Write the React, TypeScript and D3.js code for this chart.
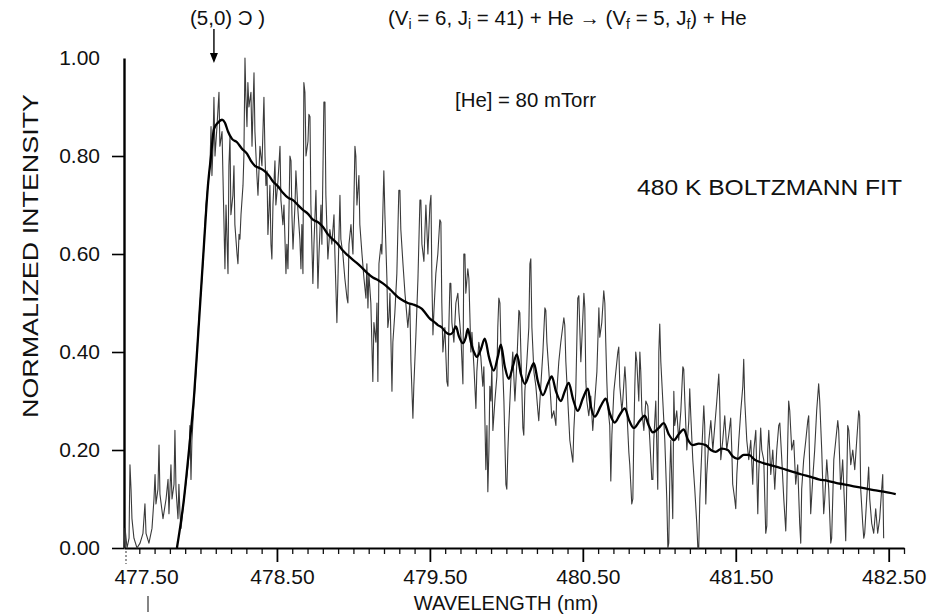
import React, { useEffect, useRef } from 'react';
import * as d3 from 'd3';

// measured emission spectrum, [wavelength (nm), normalized intensity]
const spectrum: [number, number][] = [
  [477.500, 0.00], [477.507, 0.04], [477.520, 0.00], [477.533, 0.02], [477.539, 0.17], [477.546, 0.12], [477.552, 0.06],
  [477.565, 0.02], [477.585, 0.00], [477.605, 0.01], [477.624, 0.03], [477.637, 0.09], [477.644, 0.03], [477.663, 0.01],
  [477.683, 0.04], [477.696, 0.10], [477.703, 0.15], [477.709, 0.09], [477.722, 0.12], [477.729, 0.21], [477.735, 0.11],
  [477.755, 0.06], [477.775, 0.10], [477.788, 0.14], [477.794, 0.07], [477.807, 0.17], [477.814, 0.10], [477.827, 0.13],
  [477.833, 0.24], [477.840, 0.12], [477.853, 0.06], [477.859, 0.13], [477.866, 0.07], [477.873, 0.04], [477.892, 0.10],
  [477.912, 0.15], [477.925, 0.19], [477.931, 0.25], [477.938, 0.14], [477.944, 0.22], [477.958, 0.30], [477.971, 0.36],
  [477.984, 0.44], [477.997, 0.50], [478.010, 0.55], [478.023, 0.62], [478.036, 0.70], [478.049, 0.74], [478.062, 0.78],
  [478.069, 0.86], [478.075, 0.76], [478.082, 0.82], [478.088, 0.92], [478.095, 0.80], [478.108, 0.86], [478.121, 0.93],
  [478.127, 0.82], [478.141, 0.85], [478.147, 0.76], [478.160, 0.57], [478.167, 0.70], [478.180, 0.56], [478.186, 0.78],
  [478.193, 0.84], [478.199, 0.68], [478.212, 0.72], [478.219, 0.78], [478.225, 0.66], [478.239, 0.60], [478.245, 0.58],
  [478.252, 0.64], [478.258, 0.63], [478.265, 0.68], [478.278, 0.74], [478.284, 0.80], [478.291, 1.00], [478.297, 0.92],
  [478.304, 0.86], [478.310, 0.95], [478.317, 0.90], [478.330, 0.93], [478.337, 0.82], [478.350, 0.97], [478.356, 0.85],
  [478.369, 0.76], [478.376, 0.72], [478.389, 0.82], [478.402, 0.78], [478.415, 0.92], [478.422, 0.80], [478.428, 0.74],
  [478.435, 0.77], [478.441, 0.64], [478.448, 0.69], [478.454, 0.74], [478.461, 0.62], [478.467, 0.59], [478.474, 0.70],
  [478.487, 0.79], [478.493, 0.70], [478.507, 0.75], [478.520, 0.82], [478.526, 0.71], [478.539, 0.66], [478.546, 0.70],
  [478.559, 0.56], [478.565, 0.62], [478.572, 0.57], [478.585, 0.80], [478.592, 0.79], [478.598, 0.68], [478.605, 0.61],
  [478.618, 0.70], [478.624, 0.77], [478.637, 0.69], [478.650, 0.63], [478.657, 0.57], [478.663, 0.66], [478.670, 0.56],
  [478.676, 0.95], [478.683, 0.93], [478.690, 0.80], [478.703, 0.83], [478.709, 0.885], [478.716, 0.88], [478.722, 0.70],
  [478.735, 0.54], [478.742, 0.62], [478.755, 0.73], [478.761, 0.64], [478.768, 0.53], [478.775, 0.60], [478.788, 0.70],
  [478.794, 0.62], [478.807, 0.91], [478.814, 0.91], [478.820, 0.72], [478.833, 0.59], [478.846, 0.65], [478.859, 0.62],
  [478.873, 0.68], [478.879, 0.60], [478.892, 0.46], [478.899, 0.55], [478.912, 0.72], [478.918, 0.63], [478.931, 0.60],
  [478.944, 0.55], [478.958, 0.51], [478.964, 0.50], [478.971, 0.62], [478.984, 0.66], [478.997, 0.60], [479.010, 0.82],
  [479.016, 0.80], [479.023, 0.70], [479.036, 0.76], [479.042, 0.66], [479.056, 0.60], [479.069, 0.55], [479.082, 0.51],
  [479.088, 0.58], [479.095, 0.49], [479.101, 0.56], [479.114, 0.50], [479.127, 0.34], [479.134, 0.46], [479.147, 0.42],
  [479.154, 0.50], [479.160, 0.34], [479.167, 0.58], [479.180, 0.62], [479.186, 0.60], [479.199, 0.77], [479.206, 0.68],
  [479.219, 0.55], [479.225, 0.45], [479.232, 0.47], [479.239, 0.52], [479.252, 0.32], [479.258, 0.42], [479.271, 0.48],
  [479.284, 0.56], [479.297, 0.73], [479.304, 0.73], [479.310, 0.65], [479.324, 0.58], [479.337, 0.52], [479.356, 0.45],
  [479.369, 0.50], [479.376, 0.38], [479.389, 0.265], [479.395, 0.33], [479.408, 0.43], [479.422, 0.55], [479.435, 0.71],
  [479.441, 0.71], [479.448, 0.62], [479.461, 0.585], [479.467, 0.64], [479.474, 0.70], [479.487, 0.60], [479.500, 0.70],
  [479.507, 0.72], [479.513, 0.55], [479.520, 0.435], [479.526, 0.48], [479.539, 0.56], [479.552, 0.60], [479.565, 0.67],
  [479.572, 0.665], [479.578, 0.50], [479.585, 0.40], [479.598, 0.45], [479.611, 0.34], [479.618, 0.33], [479.624, 0.45],
  [479.631, 0.54], [479.637, 0.54], [479.644, 0.46], [479.657, 0.42], [479.670, 0.50], [479.683, 0.52], [479.690, 0.48],
  [479.703, 0.43], [479.716, 0.335], [479.722, 0.60], [479.729, 0.60], [479.735, 0.52], [479.748, 0.57], [479.755, 0.55],
  [479.761, 0.48], [479.768, 0.40], [479.775, 0.44], [479.788, 0.37], [479.801, 0.285], [479.807, 0.36], [479.820, 0.42],
  [479.833, 0.39], [479.846, 0.33], [479.853, 0.37], [479.866, 0.16], [479.873, 0.25], [479.879, 0.115], [479.886, 0.20],
  [479.892, 0.33], [479.899, 0.30], [479.905, 0.37], [479.912, 0.24], [479.925, 0.30], [479.938, 0.35], [479.944, 0.45],
  [479.951, 0.51], [479.958, 0.50], [479.964, 0.42], [479.977, 0.36], [479.984, 0.30], [479.997, 0.13], [480.003, 0.12],
  [480.010, 0.20], [480.016, 0.25], [480.029, 0.34], [480.042, 0.40], [480.056, 0.30], [480.069, 0.38], [480.082, 0.485],
  [480.088, 0.48], [480.095, 0.40], [480.108, 0.245], [480.114, 0.23], [480.121, 0.32], [480.134, 0.38], [480.147, 0.45],
  [480.154, 0.58], [480.160, 0.59], [480.167, 0.45], [480.180, 0.36], [480.193, 0.33], [480.206, 0.28], [480.212, 0.26],
  [480.225, 0.33], [480.239, 0.40], [480.252, 0.49], [480.258, 0.485], [480.265, 0.42], [480.278, 0.36], [480.291, 0.30],
  [480.297, 0.265], [480.310, 0.28], [480.324, 0.25], [480.330, 0.32], [480.343, 0.38], [480.356, 0.42], [480.376, 0.47],
  [480.382, 0.455], [480.389, 0.38], [480.402, 0.30], [480.415, 0.22], [480.428, 0.19], [480.435, 0.175], [480.441, 0.24],
  [480.454, 0.32], [480.467, 0.51], [480.474, 0.515], [480.480, 0.45], [480.487, 0.38], [480.493, 0.42], [480.507, 0.52],
  [480.513, 0.49], [480.520, 0.34], [480.526, 0.30], [480.539, 0.27], [480.552, 0.31], [480.565, 0.24], [480.578, 0.30],
  [480.592, 0.36], [480.605, 0.49], [480.611, 0.43], [480.624, 0.46], [480.637, 0.525], [480.644, 0.50], [480.650, 0.42],
  [480.657, 0.34], [480.663, 0.29], [480.676, 0.25], [480.683, 0.137], [480.690, 0.23], [480.703, 0.32], [480.716, 0.36],
  [480.729, 0.40], [480.735, 0.41], [480.742, 0.33], [480.755, 0.28], [480.761, 0.30], [480.775, 0.37], [480.781, 0.34],
  [480.788, 0.28], [480.801, 0.195], [480.807, 0.17], [480.820, 0.09], [480.827, 0.10], [480.833, 0.22], [480.840, 0.33],
  [480.846, 0.40], [480.853, 0.38], [480.866, 0.30], [480.873, 0.40], [480.879, 0.36], [480.886, 0.28], [480.899, 0.24],
  [480.912, 0.30], [480.925, 0.29], [480.938, 0.22], [480.951, 0.14], [480.958, 0.14], [480.964, 0.22], [480.977, 0.30],
  [480.990, 0.12], [480.997, 0.40], [481.003, 0.457], [481.010, 0.38], [481.023, 0.30], [481.036, 0.22], [481.049, 0.10],
  [481.056, 0.00], [481.062, 0.01], [481.069, 0.15], [481.075, 0.22], [481.088, 0.06], [481.095, 0.32], [481.101, 0.25],
  [481.114, 0.28], [481.127, 0.22], [481.141, 0.28], [481.154, 0.37], [481.160, 0.365], [481.167, 0.30], [481.180, 0.20],
  [481.193, 0.26], [481.199, 0.325], [481.206, 0.27], [481.219, 0.18], [481.232, 0.12], [481.245, 0.05], [481.252, 0.00],
  [481.258, 0.00], [481.265, 0.10], [481.278, 0.20], [481.291, 0.29], [481.297, 0.25], [481.304, 0.09], [481.310, 0.15],
  [481.324, 0.22], [481.337, 0.26], [481.350, 0.20], [481.363, 0.25], [481.376, 0.30], [481.389, 0.355], [481.395, 0.30],
  [481.402, 0.18], [481.415, 0.22], [481.428, 0.27], [481.441, 0.20], [481.454, 0.23], [481.467, 0.265], [481.474, 0.20],
  [481.480, 0.13], [481.493, 0.10], [481.500, 0.08], [481.507, 0.15], [481.520, 0.22], [481.533, 0.28], [481.546, 0.33],
  [481.552, 0.385], [481.559, 0.30], [481.572, 0.22], [481.585, 0.18], [481.598, 0.22], [481.611, 0.13], [481.618, 0.20],
  [481.631, 0.24], [481.644, 0.07], [481.650, 0.15], [481.663, 0.245], [481.670, 0.20], [481.683, 0.18], [481.696, 0.03],
  [481.703, 0.045], [481.709, 0.20], [481.716, 0.24], [481.729, 0.15], [481.742, 0.20], [481.755, 0.12], [481.768, 0.20],
  [481.781, 0.25], [481.788, 0.255], [481.801, 0.18], [481.814, 0.10], [481.827, 0.035], [481.833, 0.10], [481.840, 0.22],
  [481.846, 0.30], [481.853, 0.28], [481.866, 0.20], [481.879, 0.22], [481.892, 0.13], [481.905, 0.17], [481.918, 0.05],
  [481.925, 0.01], [481.931, 0.12], [481.944, 0.18], [481.958, 0.22], [481.971, 0.26], [481.977, 0.27], [481.984, 0.15],
  [481.990, 0.07], [482.003, 0.14], [482.016, 0.20], [482.029, 0.28], [482.042, 0.335], [482.049, 0.30], [482.062, 0.20],
  [482.075, 0.07], [482.082, 0.10], [482.095, 0.18], [482.108, 0.12], [482.121, 0.01], [482.127, 0.02], [482.141, 0.18],
  [482.154, 0.22], [482.167, 0.26], [482.173, 0.24], [482.186, 0.12], [482.199, 0.18], [482.212, 0.08], [482.219, 0.015],
  [482.225, 0.12], [482.232, 0.25], [482.239, 0.24], [482.252, 0.17], [482.265, 0.20], [482.278, 0.16], [482.291, 0.22],
  [482.304, 0.28], [482.310, 0.27], [482.317, 0.12], [482.330, 0.05], [482.337, 0.02], [482.343, 0.03], [482.356, 0.10],
  [482.369, 0.165], [482.376, 0.10], [482.389, 0.05], [482.402, 0.03], [482.415, 0.08], [482.428, 0.03], [482.441, 0.06],
  [482.454, 0.12], [482.461, 0.15], [482.467, 0.02]
];

// 480 K Boltzmann fit
const boltzmannFit: [number, number][] = [
  [477.846, 0.00], [477.892, 0.10], [477.925, 0.20], [477.958, 0.31], [477.990, 0.46], [478.023, 0.62], [478.049, 0.74],
  [478.069, 0.80], [478.088, 0.855], [478.114, 0.868], [478.141, 0.874], [478.160, 0.868], [478.180, 0.85], [478.206, 0.835],
  [478.239, 0.828], [478.271, 0.815], [478.304, 0.805], [478.330, 0.79], [478.356, 0.78], [478.389, 0.775], [478.415, 0.77],
  [478.448, 0.76], [478.474, 0.748], [478.507, 0.738], [478.539, 0.725], [478.572, 0.715], [478.605, 0.71], [478.637, 0.70],
  [478.670, 0.69], [478.703, 0.682], [478.735, 0.67], [478.768, 0.665], [478.801, 0.655], [478.833, 0.64], [478.866, 0.63],
  [478.899, 0.62], [478.931, 0.607], [478.964, 0.597], [478.997, 0.588], [479.029, 0.58], [479.062, 0.57], [479.095, 0.56],
  [479.127, 0.552], [479.160, 0.547], [479.193, 0.54], [479.225, 0.532], [479.258, 0.522], [479.291, 0.512], [479.324, 0.505],
  [479.356, 0.50], [479.389, 0.497], [479.422, 0.493], [479.448, 0.488], [479.474, 0.478], [479.500, 0.468], [479.526, 0.462],
  [479.552, 0.455], [479.578, 0.45], [479.605, 0.44], [479.631, 0.436], [479.650, 0.44], [479.670, 0.452], [479.690, 0.432],
  [479.716, 0.418], [479.735, 0.43], [479.748, 0.447], [479.768, 0.42], [479.788, 0.40], [479.807, 0.39], [479.833, 0.405],
  [479.859, 0.427], [479.886, 0.39], [479.918, 0.362], [479.944, 0.39], [479.964, 0.415], [479.990, 0.37], [480.016, 0.345],
  [480.042, 0.37], [480.069, 0.395], [480.095, 0.355], [480.121, 0.335], [480.154, 0.36], [480.180, 0.377], [480.206, 0.34],
  [480.239, 0.312], [480.271, 0.335], [480.297, 0.35], [480.324, 0.32], [480.356, 0.30], [480.382, 0.32], [480.408, 0.337],
  [480.435, 0.305], [480.467, 0.28], [480.500, 0.305], [480.533, 0.325], [480.552, 0.29], [480.578, 0.268], [480.618, 0.29],
  [480.650, 0.305], [480.676, 0.275], [480.709, 0.256], [480.742, 0.272], [480.775, 0.285], [480.801, 0.262], [480.833, 0.245],
  [480.873, 0.26], [480.905, 0.27], [480.931, 0.25], [480.958, 0.236], [480.997, 0.245], [481.029, 0.255], [481.062, 0.232],
  [481.095, 0.22], [481.127, 0.232], [481.160, 0.242], [481.186, 0.222], [481.219, 0.21], [481.258, 0.213], [481.304, 0.21],
  [481.337, 0.20], [481.369, 0.196], [481.408, 0.203], [481.448, 0.20], [481.480, 0.187], [481.513, 0.182], [481.552, 0.19],
  [481.585, 0.19], [481.624, 0.18], [481.663, 0.175], [481.716, 0.17], [481.775, 0.165], [481.827, 0.16], [481.879, 0.155],
  [481.931, 0.15], [481.990, 0.145], [482.042, 0.14], [482.101, 0.137], [482.154, 0.133], [482.206, 0.13], [482.271, 0.126],
  [482.337, 0.122], [482.402, 0.118], [482.467, 0.115], [482.546, 0.11]
];

const xTickValues = [477.5, 478.5, 479.5, 480.5, 481.5, 482.5];
const yTickValues = [0, 0.2, 0.4, 0.6, 0.8, 1.0];
const xDomain: [number, number] = [477.5, 482.6];

// band head marker (5,0)
const bandHeadWavelength = 478.088;
const bandHeadIntensity = 0.99;

const App = () => {
  const svgRef = useRef<SVGSVGElement>(null);

  useEffect(() => {
    const svg = d3.select(svgRef.current);
    const width = 938;
    const height = 614;
    const margin = { top: 58, right: 34, bottom: 66, left: 124 };
    const font = "'Liberation Sans', Arial, Helvetica, sans-serif";

    svg.selectAll('*').remove();

    const x = d3.scaleLinear().domain(xDomain).range([margin.left, width - margin.right]);
    const y = d3.scaleLinear().domain([0, 1]).range([height - margin.bottom, margin.top]);

    // minor ticks every 0.1 nm
    const minorTicks = d3.range(1, 52)
      .map(i => +(477.5 + i * 0.1).toFixed(1))
      .filter(v => !xTickValues.some(t => Math.abs(t - v) < 1e-6));

    svg.append('g')
      .attr('transform', `translate(0,${y(0)})`)
      .call(d3.axisBottom(x).tickValues(minorTicks).tickSize(6).tickSizeOuter(0).tickFormat(() => ''))
      .call(g => g.select('.domain').remove())
      .selectAll('line').attr('stroke', '#111').attr('stroke-width', 1.3);

    const xAxis = svg.append('g')
      .attr('transform', `translate(0,${y(0)})`)
      .call(d3.axisBottom(x).tickValues(xTickValues).tickSize(14).tickSizeOuter(0).tickPadding(7).tickFormat(d3.format('.2f')));
    xAxis.attr('font-family', font).attr('font-size', 21);
    xAxis.select('.domain').attr('stroke', '#000').attr('stroke-width', 2.2);
    xAxis.selectAll('.tick line').attr('stroke', '#000').attr('stroke-width', 1.8);
    xAxis.selectAll('.tick line').filter((d: any) => d === 477.5).remove();
    xAxis.selectAll('text')
      .attr('fill', '#111')
      .attr('dx', (d: any) => (d === 477.5 ? 22 : 5));

    const yAxis = svg.append('g')
      .attr('transform', `translate(${margin.left},0)`)
      .call(d3.axisLeft(y).tickValues(yTickValues).tickSize(12).tickSizeOuter(0).tickPadding(12).tickFormat(d3.format('.2f')));
    yAxis.attr('font-family', font).attr('font-size', 21);
    yAxis.select('.domain').attr('stroke', '#000').attr('stroke-width', 2.4);
    yAxis.selectAll('.tick line').attr('stroke', '#000').attr('stroke-width', 1.6);
    yAxis.selectAll('.tick').filter((d: any) => d === 1).select('line').remove();
    yAxis.selectAll('text').attr('fill', '#111');

    // scan marks under the axis corner
    svg.append('line')
      .attr('x1', x(477.5) + 2).attr('x2', x(477.5) + 2)
      .attr('y1', y(0) + 3).attr('y2', y(0) + 16)
      .attr('stroke', '#555').attr('stroke-width', 1.2).attr('stroke-dasharray', '2,2');
    svg.append('line')
      .attr('x1', x(477.5) + 24).attr('x2', x(477.5) + 24)
      .attr('y1', height - 18).attr('y2', height - 2)
      .attr('stroke', '#333').attr('stroke-width', 1.2);

    // spectrum
    const dataLine = d3.line<[number, number]>().x(d => x(d[0])).y(d => y(d[1]));
    svg.append('path')
      .datum(spectrum)
      .attr('d', dataLine)
      .attr('fill', 'none')
      .attr('stroke', '#3a3a3a')
      .attr('stroke-width', 1.1)
      .attr('stroke-linejoin', 'round');

    // fit
    const fitLine = d3.line<[number, number]>().x(d => x(d[0])).y(d => y(d[1])).curve(d3.curveMonotoneX);
    svg.append('path')
      .datum(boltzmannFit)
      .attr('d', fitLine)
      .attr('fill', 'none')
      .attr('stroke', '#000')
      .attr('stroke-width', 2.3)
      .attr('stroke-linejoin', 'round');

    // axis titles
    svg.append('text')
      .attr('transform', 'translate(38,256) rotate(-90)')
      .attr('text-anchor', 'middle')
      .attr('font-family', font)
      .attr('font-size', 22)
      .attr('fill', '#111')
      .attr('textLength', 324)
      .attr('lengthAdjust', 'spacingAndGlyphs')
      .text('NORMALIZED INTENSITY');

    svg.append('text')
      .attr('x', 506)
      .attr('y', 610)
      .attr('text-anchor', 'middle')
      .attr('font-family', font)
      .attr('font-size', 20)
      .attr('fill', '#111')
      .text('WAVELENGTH (nm)');

    // band head arrow
    const ax = x(bandHeadWavelength);
    const tipY = y(bandHeadIntensity);
    svg.append('line')
      .attr('x1', ax).attr('x2', ax)
      .attr('y1', 29).attr('y2', tipY - 8)
      .attr('stroke', '#000').attr('stroke-width', 1.4);
    svg.append('path')
      .attr('d', `M${ax - 4},${tipY - 10}L${ax + 4},${tipY - 10}L${ax},${tipY}Z`)
      .attr('fill', '#000');

    svg.append('text')
      .attr('x', 190).attr('y', 25)
      .attr('font-family', font).attr('font-size', 20.5).attr('fill', '#111')
      .text('(5,0) \u0186 )');

    // reaction title with subscripts
    const title = svg.append('text')
      .attr('x', 388).attr('y', 25)
      .attr('font-family', font).attr('font-size', 20.5).attr('fill', '#111');
    const parts: [string, boolean][] = [
      ['(V', false], ['i', true], [' = 6, J', false], ['i', true], [' = 41) + He \u2192 (V', false],
      ['f', true], [' = 5, J', false], ['f', true], [') + He', false]
    ];
    parts.forEach(([t, sub]) => {
      title.append('tspan')
        .attr('font-size', sub ? 14 : 20.5)
        .attr('baseline-shift', sub ? '-25%' : null)
        .text(t);
    });

    svg.append('text')
      .attr('x', 455).attr('y', 107)
      .attr('font-family', font).attr('font-size', 20.5).attr('fill', '#111')
      .attr('textLength', 141).attr('lengthAdjust', 'spacingAndGlyphs')
      .text('[He] = 80 mTorr');

    svg.append('text')
      .attr('x', 637).attr('y', 195)
      .attr('font-family', font).attr('font-size', 22).attr('fill', '#111')
      .attr('textLength', 265).attr('lengthAdjust', 'spacingAndGlyphs')
      .text('480 K BOLTZMANN FIT');
  }, []);

  return (
    <svg
      ref={svgRef}
      width={938}
      height={614}
      style={{ position: 'absolute', left: 0, top: 0, background: '#fff' }}
    />
  );
};

export default App;
